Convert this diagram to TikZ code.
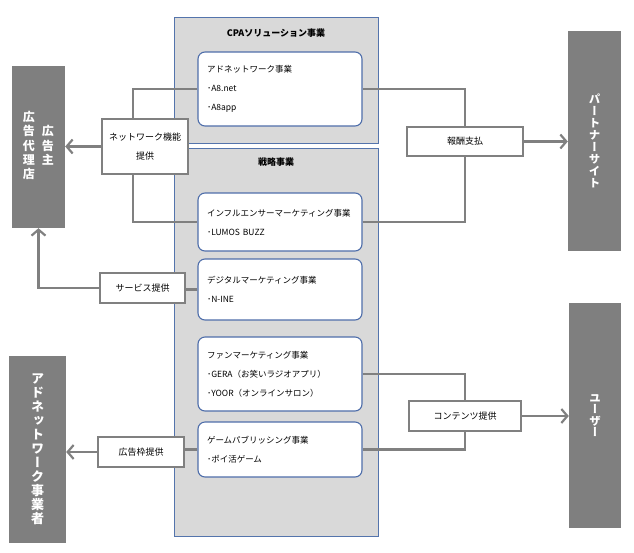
\documentclass[tikz,border=0pt]{standalone}
\usepackage{fontspec}
\setmainfont{Noto Sans CJK JP}
\newfontfamily\jpvert[RawFeature=+vert]{Noto Sans CJK JP}
\usetikzlibrary{arrows.meta,calc}
\definecolor{GrpFill} {RGB}{217,217,217}
\definecolor{GrpLine} {RGB}{84,116,172}
\definecolor{BizLine} {RGB}{79,110,170}
\definecolor{SideFill}{RGB}{127,127,127}
\definecolor{FlowLine}{RGB}{128,128,128}
\tikzset{
  nd_grp/.style={rectangle,draw=GrpLine,fill=GrpFill,line width=0.9pt,inner sep=0pt},
  nd_ttl/.style={font=\fontsize{9}{11}\selectfont\bfseries},
  nd_biz/.style={rectangle,rounded corners=7pt,draw=BizLine,fill=white,line width=1.1pt,minimum width=164pt,text width=146pt,align=left,inner sep=0pt,font=\fontsize{8.5}{19}\selectfont},
  nd_side/.style={rectangle,fill=SideFill,inner sep=0pt,text=white,align=center,font=\jpvert\fontsize{12}{13}\selectfont\bfseries},
  nd_flow/.style={rectangle,draw=FlowLine,fill=white,line width=2pt,inner sep=0pt,align=center,font=\fontsize{9}{19}\selectfont},
  lnk/.style={draw=FlowLine,line width=2.2pt},
  arr/.style={lnk,-{Straight Barb[length=6pt,width=14pt]}},
}

\begin{document}
\begin{tikzpicture}[x=1pt,y=-1pt]
\useasboundingbox (0,0) rectangle (634,552);
\def\cX{280}
% groups
\node[nd_grp,minimum width=204pt,minimum height=126pt] at (276,80)(CPA){};
\node[nd_grp,minimum width=204pt,minimum height=388pt] at (276,342)(STR){};
\node[nd_ttl] at (276,33)(CPAt){CPAソリューション事業};
\node[nd_ttl] at (276,162)(STRt){戦略事業};
% businesses
\node[nd_biz,minimum height=74pt] at (\cX,89)(A8){アドネットワーク事業\\･A8.net\\･A8app};
\node[nd_biz,minimum height=58pt] at (\cX,222)(INF){インフルエンサーマーケティング事業\\･LUMOS BUZZ};
\node[nd_biz,minimum height=61pt] at (\cX,289.5)(DIG){デジタルマーケティング事業\\･N-INE};
\node[nd_biz,minimum height=74pt] at (\cX,374)(FAN){ファンマーケティング事業\\･GERA（お笑いラジオアプリ）\\･YOOR（オンラインサロン）};
\node[nd_biz,minimum height=55pt] at (\cX,449.5)(GAME){ゲームパブリッシング事業\\･ポイ活ゲーム};
% outside parties
\node[nd_side,minimum width=53pt,minimum height=162pt] at (38.5,147)(ADV){%
  \begin{tabular}{@{}c@{\hspace{7pt}}c@{}}広&\\告&広\\代&告\\理&主\\店&\end{tabular}};
\node[nd_side,minimum width=57pt,minimum height=187pt,font=\jpvert\fontsize{13}{14}\selectfont\bfseries] at (37.5,449.5)(ANW){ア\\ド\\ネ\\ッ\\ト\\ワ\\ー\\ク\\事\\業\\者};
\node[nd_side,minimum width=53pt,minimum height=220pt,font=\jpvert\fontsize{11.5}{12}\selectfont\bfseries] at (594.5,141)(PTN){パ\\ー\\ト\\ナ\\ー\\サ\\イ\\ト};
\node[nd_side,minimum width=52pt,minimum height=225pt,font=\jpvert\fontsize{11.5}{11.5}\selectfont\bfseries] at (595,415.5)(USR){ユ\\ー\\ザ\\ー};
% flows
\node[nd_flow,minimum width=86pt,minimum height=55pt] at (145,146.5)(NW){ネットワーク機能\\提供};
\node[nd_flow,minimum width=116pt,minimum height=29pt] at (465,141.5)(PAY){報酬支払};
\node[nd_flow,minimum width=85pt,minimum height=30pt] at (142.5,288)(SVC){サービス提供};
\node[nd_flow,minimum width=86pt,minimum height=30pt] at (141,452)(WAKU){広告枠提供};
\node[nd_flow,minimum width=112pt,minimum height=30pt] at (465,416)(CNT){コンテンツ提供};
% arrows
\draw[lnk](A8.west)-|([xshift=-12pt]NW.north);
\draw[lnk]([xshift=-12pt]NW.south)|-(INF.west);
\draw[arr](NW.west)--(NW.west -| ADV.east);
\draw[lnk](A8.east)-|(PAY.north);
\draw[lnk](INF.east)-|(PAY.south);
\draw[arr](PAY.east)--(PAY.east -| PTN.west);
\draw[lnk](DIG.west)--(DIG.west -| SVC.east);
\draw[arr](SVC.west)-|(ADV.south);
\draw[lnk](GAME.west)--(GAME.west -| WAKU.east);
\draw[arr](WAKU.west)--(WAKU.west -| ANW.east);
\draw[lnk](FAN.east)-|(CNT.north);
\draw[lnk](GAME.east)-|(CNT.south);
\draw[arr](CNT.east)--(CNT.east -| USR.west);
\end{tikzpicture}
\end{document}
